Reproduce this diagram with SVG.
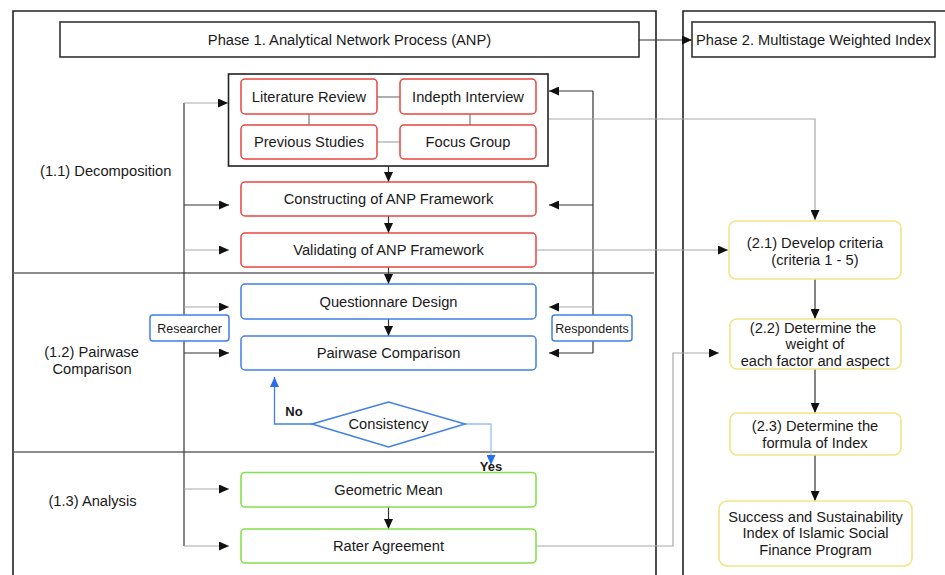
<svg xmlns="http://www.w3.org/2000/svg" width="945" height="575" viewBox="0 0 945 575">
<defs>
<style>
text{font-family:"Liberation Sans",Arial,sans-serif;font-size:14.7px;fill:#1a1a1a;text-anchor:middle}
.small{font-size:12.5px}
.bold{font-weight:bold}
.start{text-anchor:start}
.panel{fill:none;stroke:#222;stroke-width:1.6}
.hdr{fill:#fff;stroke:#333;stroke-width:1.6}
.cont{fill:none;stroke:#222;stroke-width:1.6}
.red{fill:#fff;stroke:#e8453c;stroke-width:1.5}
.blue{fill:#fff;stroke:#3f7fe6;stroke-width:1.5}
.green{fill:#fff;stroke:#85e04c;stroke-width:1.6}
.yel{fill:#fff;stroke:#f2e586;stroke-width:1.6}
.div{fill:none;stroke:#666;stroke-width:1.4}
.dk{fill:none;stroke:#333;stroke-width:1.2}
.gr{fill:none;stroke:#a8a8a8;stroke-width:1.2}
.lk{fill:none;stroke:#777;stroke-width:1.2}
.bl{fill:none;stroke:#3f7fe6;stroke-width:1.3}
.lb{fill:none;stroke:#9cbdf2;stroke-width:1.3}
</style>
<marker id="ah" markerUnits="userSpaceOnUse" markerWidth="10" markerHeight="9" refX="10" refY="4.5" orient="auto" viewBox="0 0 10 9">
<path d="M0,0 L10,4.5 L0,9 z" fill="#111"/>
</marker>
<marker id="ahb" markerUnits="userSpaceOnUse" markerWidth="10" markerHeight="9" refX="10" refY="4.5" orient="auto" viewBox="0 0 10 9">
<path d="M0,0 L10,4.5 L0,9 z" fill="#2a6ef0"/>
</marker>
</defs>
<rect width="945" height="575" fill="#fff"/>

<g id="panels">
<path class="panel" d="M13,580 V11 H656 V580"/>
<path class="panel" d="M683,580 V11 H950"/>
<line class="div" x1="13" y1="273" x2="654" y2="273"/>
<line class="div" x1="13" y1="452" x2="654" y2="452"/>
</g>

<g id="section-labels">
<text class="start" x="40" y="176">(1.1) Decomposition</text>
<text x="91.5" y="357">(1.2) Pairwase</text>
<text x="92" y="374">Comparison</text>
<text x="92.5" y="506">(1.3) Analysis</text>
</g>

<g id="connectors">
<line class="dk" x1="639" y1="40" x2="692" y2="40" marker-end="url(#ah)"/>
<line class="dk" x1="184" y1="103" x2="184" y2="546"/>
<line class="gr" x1="184" y1="103" x2="228" y2="103" marker-end="url(#ah)"/>
<line class="dk" x1="184" y1="205" x2="229" y2="205" marker-end="url(#ah)"/>
<line class="gr" x1="184" y1="250" x2="229" y2="250" marker-end="url(#ah)"/>
<line class="gr" x1="184" y1="307" x2="229" y2="307" marker-end="url(#ah)"/>
<line class="dk" x1="184" y1="353" x2="229" y2="353" marker-end="url(#ah)"/>
<line class="gr" x1="184" y1="489" x2="229" y2="489" marker-end="url(#ah)"/>
<line class="gr" x1="184" y1="546" x2="229" y2="546" marker-end="url(#ah)"/>
<line class="dk" x1="593" y1="91" x2="593" y2="353"/>
<line class="dk" x1="593" y1="91" x2="549" y2="91" marker-end="url(#ah)"/>
<line class="dk" x1="593" y1="205" x2="549" y2="205" marker-end="url(#ah)"/>
<line class="gr" x1="593" y1="307" x2="549" y2="307" marker-end="url(#ah)"/>
<line class="dk" x1="593" y1="353" x2="549" y2="353" marker-end="url(#ah)"/>
<line class="lk" x1="377" y1="97" x2="400" y2="97"/>
<line class="gr" x1="377" y1="142" x2="400" y2="142"/>
<line class="lk" x1="309" y1="114" x2="309" y2="125"/>
<line class="lk" x1="470" y1="114" x2="470" y2="125"/>
<line class="dk" x1="388.5" y1="166" x2="388.5" y2="182" marker-end="url(#ah)"/>
<line class="dk" x1="388.5" y1="216" x2="388.5" y2="233" marker-end="url(#ah)"/>
<line class="dk" x1="388.5" y1="267" x2="388.5" y2="284" marker-end="url(#ah)"/>
<line class="dk" x1="388.5" y1="319" x2="388.5" y2="336" marker-end="url(#ah)"/>
<line class="dk" x1="388.5" y1="507" x2="388.5" y2="529" marker-end="url(#ah)"/>
<polyline class="bl" points="312,424 274.5,424 274.5,377" marker-end="url(#ahb)"/>
<polyline class="lb" points="465,424 491,424 491,465" marker-end="url(#ahb)"/>
<polyline class="gr" points="548,119 815,119 815,220" marker-end="url(#ah)"/>
<line class="gr" x1="536" y1="250" x2="728" y2="250" marker-end="url(#ah)"/>
<polyline class="gr" points="536,546 673,546 673,353 719,353" marker-end="url(#ah)"/>
<line class="dk" x1="815" y1="279" x2="815" y2="319" marker-end="url(#ah)"/>
<line class="dk" x1="815" y1="369" x2="815" y2="413" marker-end="url(#ah)"/>
<line class="dk" x1="815" y1="455" x2="815" y2="501" marker-end="url(#ah)"/>
</g>

<g id="phase1">
<rect class="hdr" x="60" y="22" width="579" height="35"/>
<text x="349.5" y="45">Phase 1. Analytical Network Process (ANP)</text>
</g>
<g id="phase2">
<rect class="hdr" x="692" y="22" width="243" height="35"/>
<text x="813.5" y="45">Phase 2. Multistage Weighted Index</text>
</g>

<g id="sources">
<rect class="cont" x="228.5" y="74" width="319.5" height="92"/>
<g id="literature-review"><rect class="red" x="241" y="79" width="136" height="35" rx="4"/><text x="309" y="102">Literature Review</text></g>
<g id="indepth-interview"><rect class="red" x="400" y="79" width="136" height="35" rx="4"/><text x="468" y="102">Indepth Interview</text></g>
<g id="previous-studies"><rect class="red" x="241" y="125" width="136" height="34" rx="4"/><text x="309" y="147">Previous Studies</text></g>
<g id="focus-group"><rect class="red" x="400" y="125" width="136" height="34" rx="4"/><text x="468" y="147">Focus Group</text></g>
</g>

<g id="constructing"><rect class="red" x="241" y="182" width="295" height="34" rx="4"/><text x="388.5" y="204">Constructing of ANP Framework</text></g>
<g id="validating"><rect class="red" x="241" y="233" width="295" height="34" rx="4"/><text x="388.5" y="255">Validating of ANP Framework</text></g>
<g id="questionnaire"><rect class="blue" x="241" y="284" width="295" height="35" rx="4"/><text x="388.5" y="307">Questionnare Design</text></g>
<g id="pairwise"><rect class="blue" x="241" y="336" width="295" height="34" rx="4"/><text x="388.5" y="358">Pairwase Comparison</text></g>
<g id="researcher"><rect class="blue" x="150" y="315" width="79" height="26" rx="3"/><text class="small" x="189.5" y="332.5">Researcher</text></g>
<g id="respondents"><rect class="blue" x="552" y="315" width="80" height="26" rx="3"/><text class="small" x="592" y="332.5">Respondents</text></g>
<g id="consistency">
<polygon class="blue" points="312,424 388.5,402 465,424 388.5,447"/>
<text x="388.5" y="429">Consistency</text>
<text class="bold" x="294" y="416" style="font-size:13px">No</text>
<text class="bold" x="491" y="471" style="font-size:13px">Yes</text>
</g>
<g id="geometric-mean"><rect class="green" x="241" y="472.5" width="295" height="34.5" rx="4"/><text x="388.5" y="495">Geometric Mean</text></g>
<g id="rater-agreement"><rect class="green" x="241" y="529" width="295" height="34" rx="4"/><text x="388.5" y="551">Rater Agreement</text></g>

<g id="develop-criteria"><rect class="yel" x="729" y="221" width="172" height="58" rx="7"/><text x="815" y="248">(2.1) Develop criteria</text><text x="815" y="265">(criteria 1 - 5)</text></g>
<g id="determine-weight"><rect class="yel" x="730" y="319" width="171" height="50" rx="7"/><text x="813" y="333">(2.2) Determine the</text><text x="815" y="349">weight of</text><text x="815" y="366">each factor and aspect</text></g>
<g id="determine-formula"><rect class="yel" x="730" y="413" width="171" height="42" rx="7"/><text x="815" y="431">(2.3) Determine the</text><text x="815" y="448">formula of Index</text></g>
<g id="index"><rect class="yel" x="719" y="501" width="193" height="65" rx="8"/><text x="815.5" y="522">Success and Sustainability</text><text x="815.5" y="538">Index of Islamic Social</text><text x="815.5" y="555">Finance Program</text></g>
</svg>
